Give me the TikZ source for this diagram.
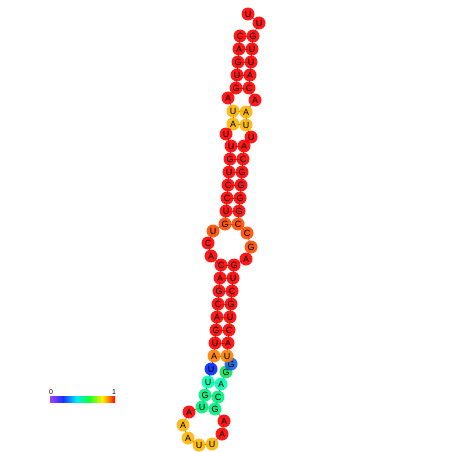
\documentclass[tikz,border=0pt]{standalone}
\usepackage{fontspec}
\setmainfont{Liberation Sans}
\definecolor{cR}{HTML}{FF0000}
\definecolor{cOR}{HTML}{FF4A00}
\definecolor{cO}{HTML}{FF8000}
\definecolor{cY}{HTML}{FFB400}
\definecolor{cB}{HTML}{0028FF}
\definecolor{cBG}{HTML}{1060E8}
\definecolor{cG}{HTML}{10E060}
\definecolor{cC}{HTML}{00FFB0}
\definecolor{cGr}{HTML}{00F080}
\definecolor{lnk}{HTML}{505050}
\definecolor{s0}{HTML}{A040FF}
\definecolor{s1}{HTML}{1830FF}
\definecolor{s2}{HTML}{00E8FF}
\definecolor{s3}{HTML}{10FF30}
\definecolor{s4}{HTML}{FFF000}
\definecolor{s5}{HTML}{FF8800}
\definecolor{s6}{HTML}{FF0000}
\pgfdeclarehorizontalshading{rainbowbar}{100bp}{
 color(0bp)=(s0); color(25bp)=(s0); color(35bp)=(s1); color(45bp)=(s2); color(55bp)=(s3);
 color(65bp)=(s4); color(70bp)=(s5); color(75bp)=(s6); color(100bp)=(s6)}
\tikzset{
 nt/.style={circle, inner sep=0pt, minimum size=13pt, font=\fontsize{9}{9}\selectfont},
 bb/.style={draw=lnk, line width=0.6pt},
 bp/.style={draw=lnk, line width=0.6pt},
 lbl/.style={font=\fontsize{7}{7}\selectfont, inner sep=0pt}
}
\begin{document}
\begin{tikzpicture}[x=1pt,y=-1pt]
\useasboundingbox (0,0) rectangle (452,452);
\def\ntlist{
 1/C/240/36/cR, 2/A/239/49/cR, 3/G/238/62/cR, 4/U/237/75/cR, 5/G/236/88/cR,
 6/A/228/98/cR, 7/U/233/111/cY, 8/A/233/124/cY, 9/U/226/134/cR, 10/U/231/146/cR,
 11/G/230/159/cR, 12/U/229/172/cR, 13/C/228/185/cR, 14/C/227/198/cR, 15/U/226/211/cR,
 16/G/225/224/cOR, 17/U/213/231/cOR, 18/C/208/243/cR, 19/A/211/256/cR, 20/C/221/265/cR,
 21/A/220/278/cR, 22/G/219/291/cR, 23/C/218/304/cR, 24/A/217/317/cR, 25/G/216/330/cR,
 26/U/215/343/cR, 27/A/214/356/cO, 28/U/211/369/cB, 29/U/208/382/cC, 30/G/205/395/cGr,
 31/U/202/407/cGr, 32/A/189/412/cR, 33/A/183/425/cY, 34/A/188/438/cY, 35/U/199/445/cY,
 36/U/212/444/cY, 37/A/222/434/cR, 38/A/224/421/cR, 39/G/215/409/cGr, 40/C/218/397/cGr,
 41/A/221/384/cC, 42/G/226/372/cG, 43/G/231/364/cBG, 44/U/227/356/cO, 45/A/228/343/cR,
 46/C/229/330/cR, 47/U/230/317/cR, 48/G/231/304/cR, 49/C/232/291/cR, 50/U/233/278/cR,
 51/G/234/265/cR, 52/A/246/259/cR, 53/G/251/247/cOR, 54/C/247/233/cOR, 55/C/238/224/cOR,
 56/G/239/211/cR, 57/G/240/198/cR, 58/G/241/185/cR, 59/G/242/172/cR, 60/C/243/159/cR,
 61/A/244/146/cR, 62/U/251/137/cR, 63/U/246/125/cY, 64/A/246/112/cY, 65/A/255/100/cR,
 66/C/249/88/cR, 67/A/250/75/cR, 68/U/251/62/cR, 69/U/252/49/cR, 70/G/253/36/cR,
 71/U/259/23/cR, 72/U/248/14/cR}
\foreach \n/\b/\x/\y/\c in \ntlist
 \coordinate (p\n) at (\x,\y);
\foreach \i [evaluate=\i as \j using int(\i+1)] in {1,...,71}
 \draw[bb] (p\i) -- (p\j);
\foreach \a/\b in {1/70,2/69,3/68,4/67,5/66,7/64,8/63,10/61,11/60,12/59,13/58,14/57,15/56,16/55,
 20/51,21/50,22/49,23/48,24/47,25/46,26/45,27/44,29/41,30/40,31/39}
 \draw[bp] (p\a) -- (p\b);
\foreach \n/\b/\x/\y/\c in \ntlist
 \node[nt, fill=\c, fill opacity=0.9, text opacity=1] (n\n) at (p\n) {\b};
% colour bar
\shade[shading=rainbowbar] (50,396) rectangle (115,402);
\node[lbl] (z0) at (51,392) {0};
\node[lbl] (z1) at (114,392) {1};
\end{tikzpicture}
\end{document}
